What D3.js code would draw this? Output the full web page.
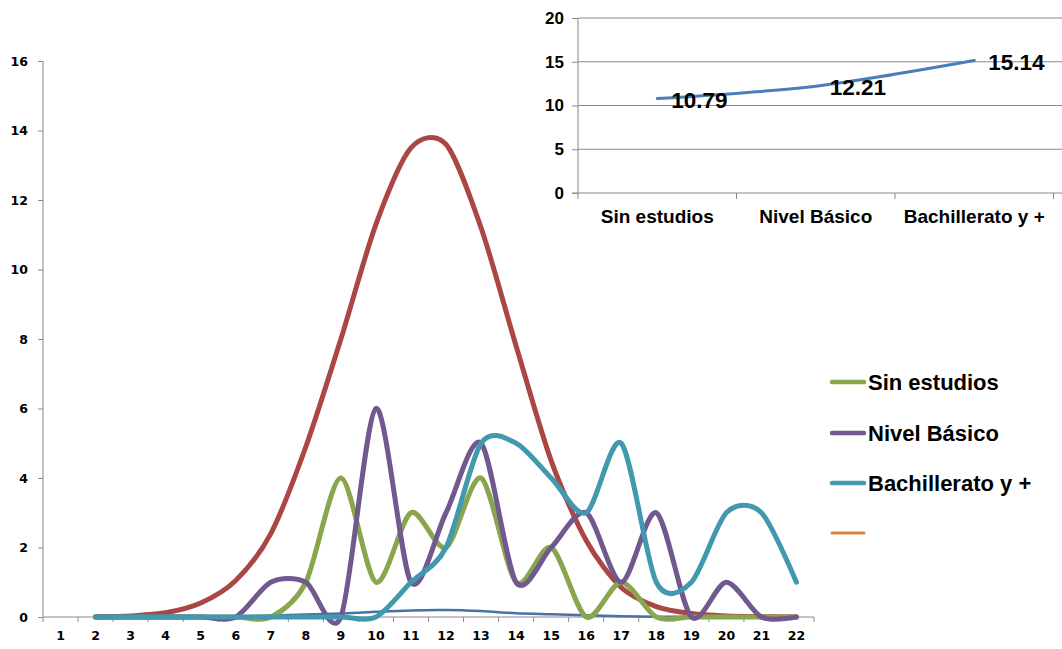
<!DOCTYPE html>
<html>
<head>
<meta charset="utf-8">
<script src="https://cdn.jsdelivr.net/npm/d3@7"></script>
<style>
  body { margin: 0; background: #fff; }
  svg { display: block; }
</style>
</head>
<body>
<svg id="chart" width="1062" height="649"></svg>
<script>
// main chart: categories 1..22, series start at 2
const categories = d3.range(1, 23).map(String)
const seriesX = d3.range(2, 23).map(String)

const blueSerie = [0, 0, 0.01, 0.01, 0.02, 0.04, 0.07, 0.1, 0.15, 0.19, 0.2, 0.17, 0.11, 0.08, 0.05, 0.02, 0.01, 0, 0, 0, 0]
const redSerie = [0.01, 0.03, 0.12, 0.4, 1.05, 2.4, 4.9, 8.0, 11.3, 13.5, 13.6, 11.2, 7.8, 4.5, 2.2, 0.85, 0.3, 0.1, 0.03, 0.01, 0]
const sinEstudios = [0, 0, 0, 0, 0, 0, 1, 4, 1, 3, 2, 4, 1, 2, 0, 1, 0, 0, 0, 0, 0]
const nivelBasico = [0, 0, 0, 0, 0, 1, 1, 0, 6, 1, 3, 5, 1, 2, 3, 1, 3, 0, 1, 0, 0]
const bachillerato = [0, 0, 0, 0, 0, 0, 0, 0, 0, 1, 2, 5, 5, 4, 3, 5, 1, 1, 3, 3, 1]

const yTicks = [0, 2, 4, 6, 8, 10, 12, 14, 16]
const legendNames = ['Sin estudios', 'Nivel Básico', 'Bachillerato y +', '']

// inset chart
const insetCats = ['Sin estudios', 'Nivel Básico', 'Bachillerato y +']
const insetValues = [10.79, 12.21, 15.14]
const insetTicks = [0, 5, 10, 15, 20]

const svg = d3.select('#chart')
const axisColor = '#8a8a8a'
const smooth = d3.curveCardinal.tension(0.15)

// ---------- main chart ----------
const xScale = d3.scaleBand().domain(categories).range([43, 814])
const yScale = d3.scaleLinear().domain([0, 16]).range([617, 61])

const yAxis = svg.append('g')
  .attr('transform', 'translate(43,0)')
  .call(d3.axisLeft(yScale).tickValues(yTicks).tickSize(5).tickPadding(10))
yAxis.select('.domain').attr('stroke', axisColor).attr('d', 'M0,' + yScale(16) + 'V' + yScale(0))
yAxis.selectAll('.tick line').attr('stroke', axisColor)
yAxis.selectAll('.tick text')
  .attr('font-family', 'DejaVu Sans').attr('font-weight', 'bold').attr('font-size', 12.5).attr('fill', '#000')

const xAxis = svg.append('g')
  .attr('transform', 'translate(0,' + yScale(0) + ')')
  .call(d3.axisBottom(xScale).tickSize(0).tickPadding(14))
xAxis.select('.domain').attr('stroke', axisColor).attr('d', 'M43,0H814')
xAxis.selectAll('.tick text')
  .attr('font-family', 'DejaVu Sans').attr('font-weight', 'bold').attr('font-size', 12.5).attr('fill', '#000')
// tick marks on band boundaries
xAxis.selectAll('.bound')
  .data(categories.concat(['end']))
  .enter()
  .append('line')
  .attr('class', 'bound')
  .attr('x1', function(d, i) { return 43 + i * xScale.bandwidth() })
  .attr('x2', function(d, i) { return 43 + i * xScale.bandwidth() })
  .attr('y1', 0)
  .attr('y2', 5)
  .attr('stroke', axisColor)

const line = d3.line()
  .x(function(d, i) { return xScale(seriesX[i]) + xScale.bandwidth() / 2 })
  .y(function(d) { return yScale(d) })
  .curve(smooth)

const mainSeries = [
  { values: blueSerie, color: '#4572A7', width: 2.5 },
  { values: redSerie, color: '#AA4643', width: 5 },
  { values: sinEstudios, color: '#89A54E', width: 5 },
  { values: nivelBasico, color: '#71588F', width: 5 },
  { values: bachillerato, color: '#4198AF', width: 5 }
]

svg.selectAll('.serie')
  .data(mainSeries)
  .enter()
  .append('path')
  .attr('class', 'serie')
  .attr('d', function(s) { return line(s.values) })
  .attr('fill', 'none')
  .attr('stroke', function(s) { return s.color })
  .attr('stroke-width', function(s) { return s.width })
  .attr('stroke-linecap', 'round')
  .attr('stroke-linejoin', 'round')

// legend
const legendColors = ['#89A54E', '#71588F', '#4198AF', '#DB843D']
const legendY = [382, 433, 483, 533]
const legend = svg.append('g')
legend.selectAll('line')
  .data(legendNames)
  .enter()
  .append('line')
  .attr('x1', 832).attr('x2', 864)
  .attr('y1', function(d, i) { return legendY[i] })
  .attr('y2', function(d, i) { return legendY[i] })
  .attr('stroke', function(d, i) { return legendColors[i] })
  .attr('stroke-width', function(d, i) { return i == 3 ? 3 : 4.5 })
  .attr('stroke-linecap', 'round')
legend.selectAll('text')
  .data(legendNames)
  .enter()
  .append('text')
  .attr('x', 868)
  .attr('y', function(d, i) { return legendY[i] + 8 })
  .attr('font-family', 'Liberation Sans, Arial, sans-serif')
  .attr('font-weight', 'bold')
  .attr('font-size', 22)
  .attr('fill', '#000')
  .text(function(d) { return d })

// ---------- inset chart ----------
const ix = d3.scaleBand().domain(insetCats).range([578, 1053.5])
const iy = d3.scaleLinear().domain([0, 20]).range([193, 18])

const inset = svg.append('g')
inset.selectAll('.grid')
  .data(insetTicks.filter(function(t) { return t > 0 }))
  .enter()
  .append('line')
  .attr('class', 'grid')
  .attr('x1', 578).attr('x2', 1062)
  .attr('y1', function(d) { return iy(d) })
  .attr('y2', function(d) { return iy(d) })
  .attr('stroke', axisColor)

const iyAxis = inset.append('g')
  .attr('transform', 'translate(578,0)')
  .call(d3.axisLeft(iy).tickValues(insetTicks).tickSize(6).tickPadding(8))
iyAxis.select('.domain').attr('stroke', axisColor).attr('d', 'M0,' + iy(20) + 'V' + iy(0))
iyAxis.selectAll('.tick line').attr('stroke', axisColor)
iyAxis.selectAll('.tick text')
  .attr('font-family', 'Liberation Sans, Arial, sans-serif').attr('font-weight', 'bold')
  .attr('font-size', 17).attr('fill', '#000')

const ixAxis = inset.append('g')
  .attr('transform', 'translate(0,' + iy(0) + ')')
  .call(d3.axisBottom(ix).tickSize(0).tickPadding(17))
ixAxis.select('.domain').attr('stroke', axisColor).attr('d', 'M572,0H1062')
ixAxis.selectAll('.tick text')
  .attr('font-family', 'Liberation Sans, Arial, sans-serif').attr('font-weight', 'bold')
  .attr('font-size', 19).attr('fill', '#000')
ixAxis.selectAll('.bound')
  .data([0, 1, 2, 3])
  .enter()
  .append('line')
  .attr('class', 'bound')
  .attr('x1', function(d) { return 578 + d * ix.bandwidth() })
  .attr('x2', function(d) { return 578 + d * ix.bandwidth() })
  .attr('y1', 0).attr('y2', 6)
  .attr('stroke', axisColor)

const iline = d3.line()
  .x(function(d, i) { return ix(insetCats[i]) + ix.bandwidth() / 2 })
  .y(function(d) { return iy(d) })
  .curve(smooth)

inset.append('path')
  .attr('d', iline(insetValues))
  .attr('fill', 'none')
  .attr('stroke', '#4A7EBB')
  .attr('stroke-width', 3)
  .attr('stroke-linecap', 'round')

inset.selectAll('.lbl')
  .data(insetValues)
  .enter()
  .append('text')
  .attr('class', 'lbl')
  .attr('x', function(d, i) { return ix(insetCats[i]) + ix.bandwidth() / 2 + 14 })
  .attr('y', function(d) { return iy(d) + 9 })
  .attr('font-family', 'Liberation Sans, Arial, sans-serif')
  .attr('font-weight', 'bold')
  .attr('font-size', 22.5)
  .attr('fill', '#000')
  .text(function(d) { return d.toFixed(2) })
</script>
</body>
</html>
